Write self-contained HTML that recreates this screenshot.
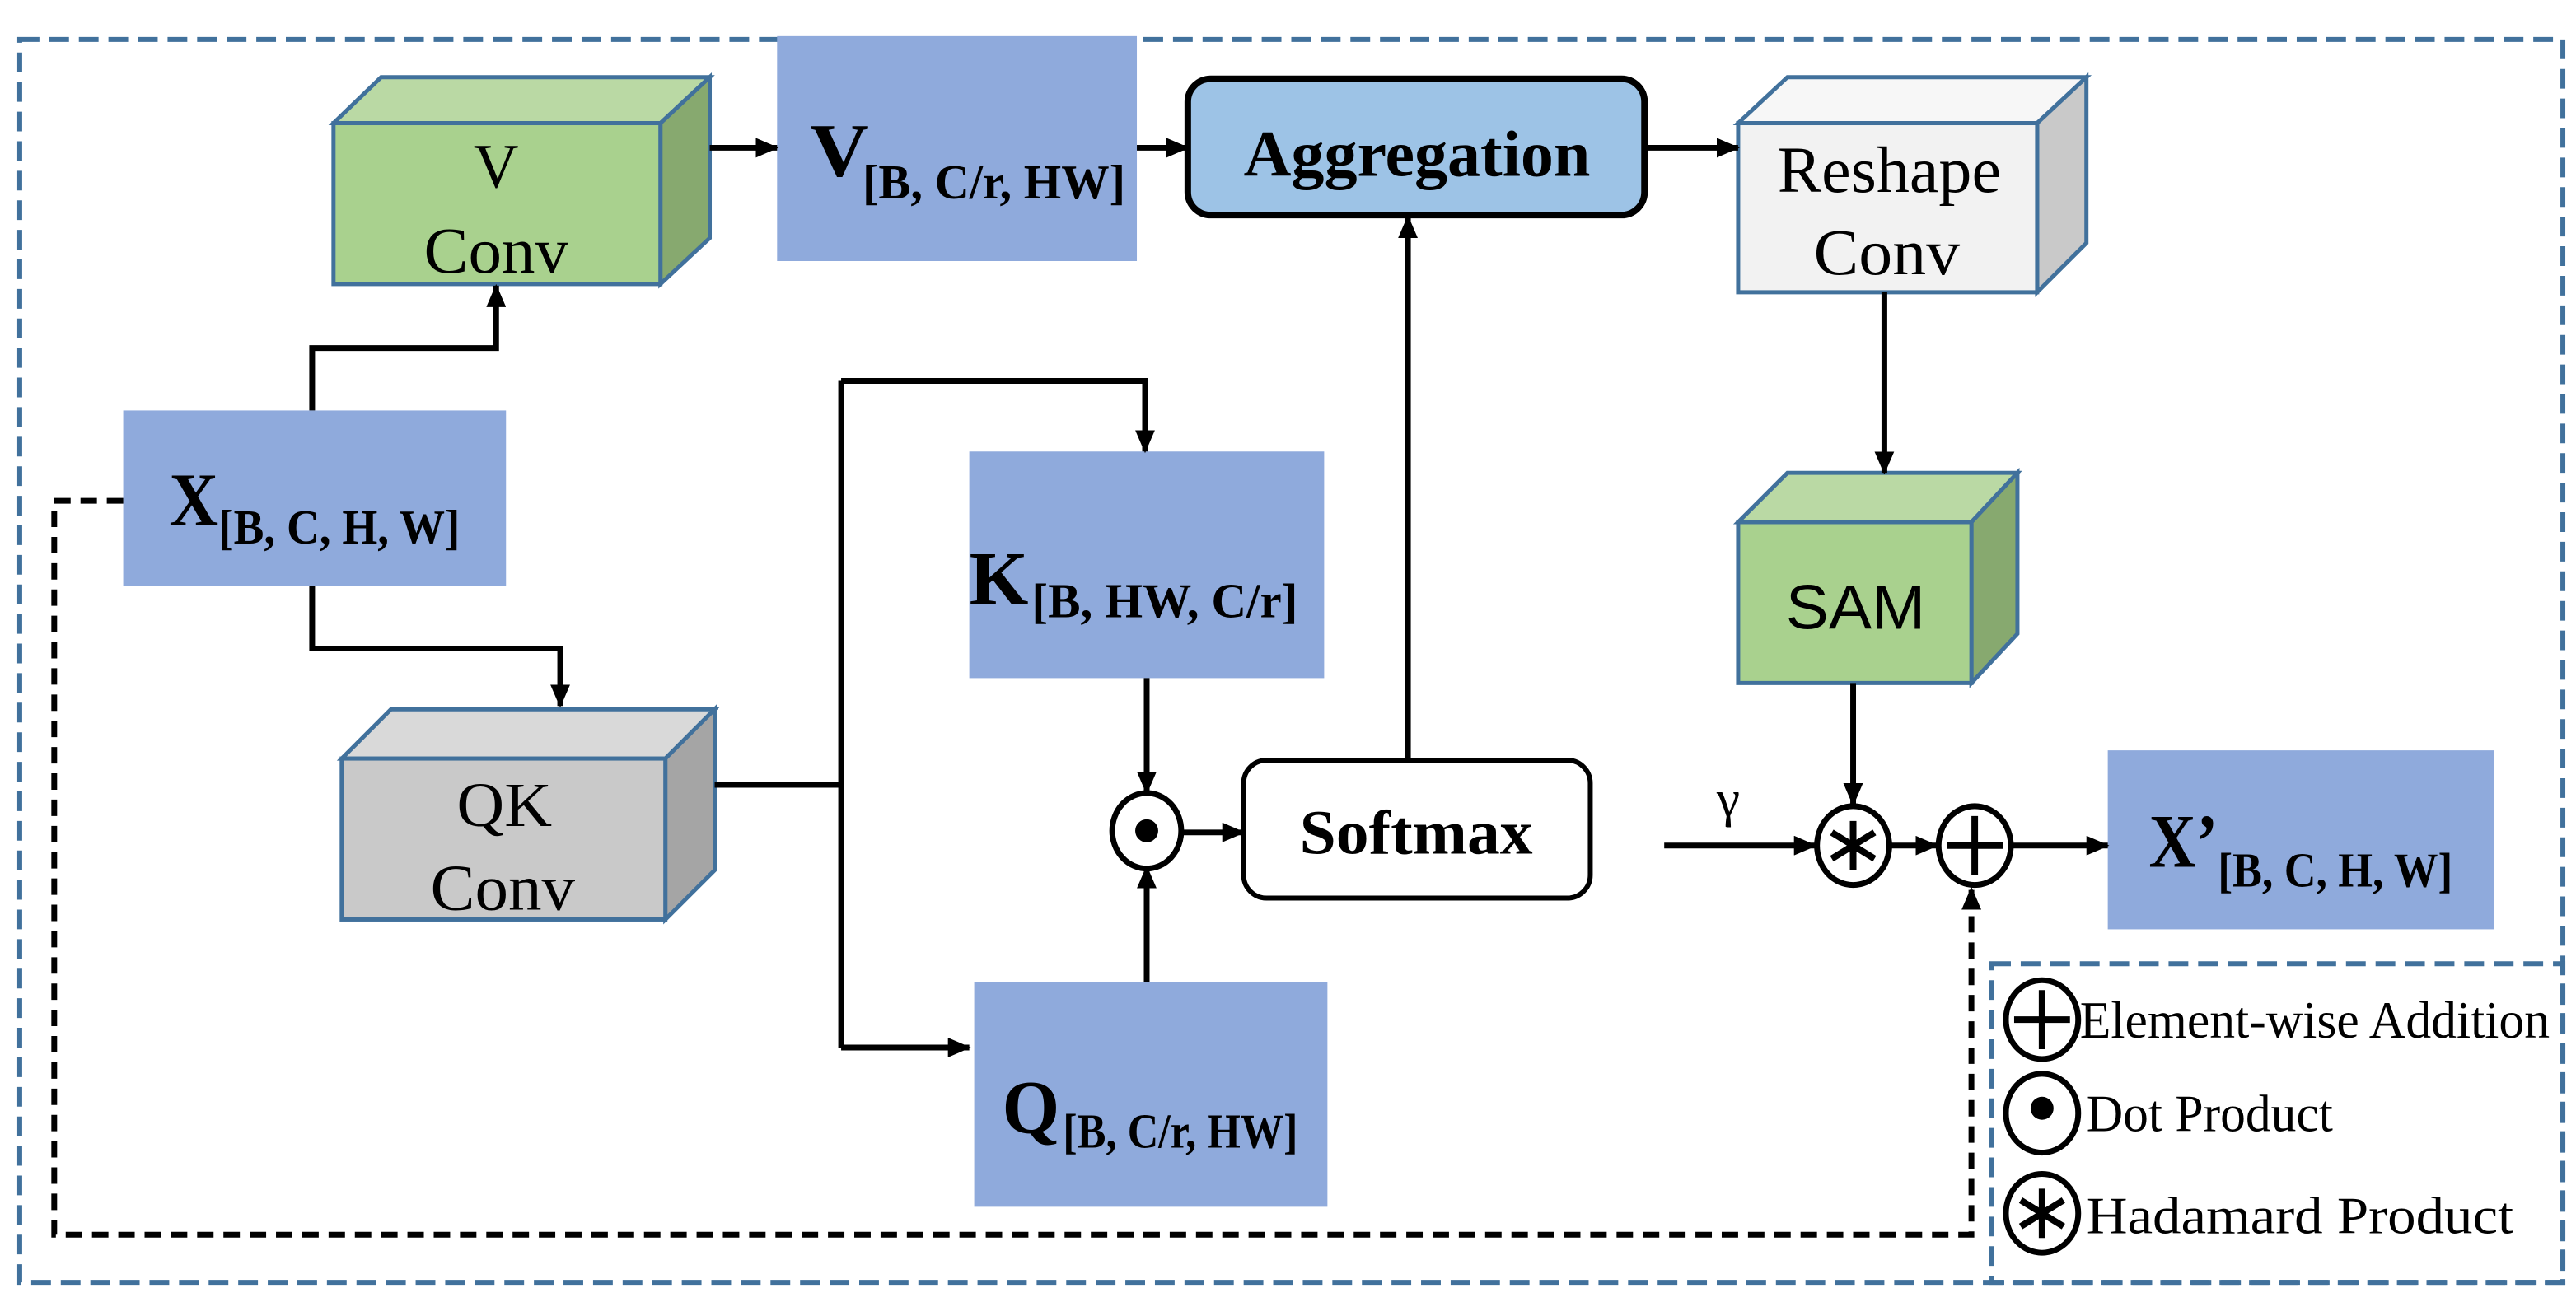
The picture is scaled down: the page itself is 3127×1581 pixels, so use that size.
<!DOCTYPE html>
<html><head><meta charset="utf-8"><style>
html,body{margin:0;padding:0;background:#fff;}
svg{display:block;}
text{font-family:"Liberation Serif",serif;}
</style></head><body>
<svg width="3127" height="1581" viewBox="0 0 1568 793" preserveAspectRatio="none" xmlns="http://www.w3.org/2000/svg">
<defs>
<marker id="a" markerWidth="14" markerHeight="12" refX="13" refY="6" orient="auto" markerUnits="userSpaceOnUse">
<path d="M0,0 L14,6 L0,12 z" fill="#000"/></marker>
</defs>
<rect x="12" y="24" width="1548" height="757" fill="none" stroke="#41719C" stroke-width="3" stroke-dasharray="12,6"/>

<!-- V Conv cube -->
<g stroke="#41719C" stroke-width="2.5">
<polygon points="203,75 232,47 432,47 402,75" fill="#BAD9A4"/>
<polygon points="402,75 432,47 432,145 402,173" fill="#87A96F"/>
<rect x="203" y="75" width="199" height="98" fill="#A9D18E"/>
</g>
<text x="302" y="114" font-size="38" text-anchor="middle">V</text>
<text x="258" y="166" font-size="40" textLength="88" lengthAdjust="spacingAndGlyphs">Conv</text>

<!-- V box -->
<rect x="473" y="22" width="219" height="137" fill="#8FAADC"/>
<text x="493" y="107" font-size="46" font-weight="bold" textLength="36" lengthAdjust="spacingAndGlyphs">V</text>
<text x="525" y="121" font-size="30" font-weight="bold" textLength="160" lengthAdjust="spacingAndGlyphs">[B, C/r, HW]</text>

<!-- Aggregation -->
<rect x="723" y="48" width="278" height="83" rx="14" fill="#9DC3E6" stroke="#000" stroke-width="4"/>
<text x="757" y="107" font-size="40" font-weight="bold" textLength="211" lengthAdjust="spacingAndGlyphs">Aggregation</text>

<!-- Reshape Conv cube -->
<g stroke="#41719C" stroke-width="2.5">
<polygon points="1058,75 1088,47 1270,47 1240,75" fill="#F7F7F7"/>
<polygon points="1240,75 1270,47 1270,148 1240,178" fill="#C9C9C9"/>
<rect x="1058" y="75" width="182" height="103" fill="#F2F2F2"/>
</g>
<text x="1082" y="117" font-size="40" textLength="136" lengthAdjust="spacingAndGlyphs">Reshape</text>
<text x="1104" y="167" font-size="40" textLength="89" lengthAdjust="spacingAndGlyphs">Conv</text>

<!-- SAM cube -->
<g stroke="#41719C" stroke-width="2.5">
<polygon points="1058,318 1088,288 1228,288 1200,318" fill="#BAD9A4"/>
<polygon points="1200,318 1228,288 1228,386 1200,416" fill="#87A96F"/>
<rect x="1058" y="318" width="142" height="98" fill="#A9D18E"/>
</g>
<text x="1087" y="383" font-size="38" style="font-family:'Liberation Sans',sans-serif" textLength="85" lengthAdjust="spacingAndGlyphs">SAM</text>

<!-- X box -->
<rect x="75" y="250" width="233" height="107" fill="#8FAADC"/>
<text x="103" y="320" font-size="46" font-weight="bold" textLength="30" lengthAdjust="spacingAndGlyphs">X</text>
<text x="133" y="331" font-size="30" font-weight="bold" textLength="147" lengthAdjust="spacingAndGlyphs">[B, C,  H, W]</text>

<!-- QK Conv cube -->
<g stroke="#41719C" stroke-width="2.5">
<polygon points="208,462 238,432 435,432 405,462" fill="#D9D9D9"/>
<polygon points="405,462 435,432 435,530 405,560" fill="#A5A5A5"/>
<rect x="208" y="462" width="197" height="98" fill="#C9C9C9"/>
</g>
<text x="278" y="503" font-size="38" textLength="58" lengthAdjust="spacingAndGlyphs">QK</text>
<text x="262" y="554" font-size="40" textLength="88" lengthAdjust="spacingAndGlyphs">Conv</text>

<!-- K box -->
<rect x="590" y="275" width="216" height="138" fill="#8FAADC"/>
<text x="590" y="368" font-size="46" font-weight="bold" textLength="36" lengthAdjust="spacingAndGlyphs">K</text>
<text x="628" y="376" font-size="30" font-weight="bold" textLength="162" lengthAdjust="spacingAndGlyphs">[B, HW, C/r]</text>

<!-- Q box -->
<rect x="593" y="598" width="215" height="137" fill="#8FAADC"/>
<text x="610" y="690" font-size="46" font-weight="bold" textLength="35" lengthAdjust="spacingAndGlyphs">Q</text>
<text x="647" y="699" font-size="30" font-weight="bold" textLength="143" lengthAdjust="spacingAndGlyphs">[B, C/r, HW]</text>

<!-- Softmax -->
<rect x="757" y="463" width="211" height="84" rx="14" fill="#fff" stroke="#000" stroke-width="3"/>
<text x="791" y="520" font-size="38" font-weight="bold" textLength="142" lengthAdjust="spacingAndGlyphs">Softmax</text>

<!-- X' box -->
<rect x="1283" y="457" width="235" height="109" fill="#8FAADC"/>
<text x="1308" y="528" font-size="46" font-weight="bold" textLength="42" lengthAdjust="spacingAndGlyphs">X’</text>
<text x="1350" y="540" font-size="30" font-weight="bold" textLength="143" lengthAdjust="spacingAndGlyphs">[B, C,  H, W]</text>

<g stroke="#000" stroke-width="3.5" fill="none">
<line x1="432" y1="90" x2="473" y2="90" marker-end="url(#a)"/>
<line x1="692" y1="90" x2="723" y2="90" marker-end="url(#a)"/>
<line x1="1001" y1="90" x2="1058" y2="90" marker-end="url(#a)"/>
<line x1="1147" y1="178" x2="1147" y2="288" marker-end="url(#a)"/>
<polyline points="190,250 190,212 302,212 302,174" marker-end="url(#a)"/>
<polyline points="190,357 190,395 341,395 341,430" marker-end="url(#a)"/>
<line x1="435" y1="478" x2="512" y2="478"/>
<polyline points="512,232 697,232 697,275" marker-end="url(#a)"/>
<line x1="512" y1="232" x2="512" y2="638"/>
<polyline points="512,638 590,638" marker-end="url(#a)"/>
<line x1="698" y1="413" x2="698" y2="483" marker-end="url(#a)"/>
<line x1="698" y1="598" x2="698" y2="528" marker-end="url(#a)"/>
<line x1="720" y1="507" x2="757" y2="507" marker-end="url(#a)"/>
<line x1="857" y1="463" x2="857" y2="132" marker-end="url(#a)"/>
<line x1="1128" y1="416" x2="1128" y2="490" marker-end="url(#a)"/>
<line x1="1013" y1="515" x2="1105" y2="515" marker-end="url(#a)"/>
<line x1="1150" y1="515" x2="1179" y2="515" marker-end="url(#a)"/>
<line x1="1225" y1="515" x2="1283" y2="515" marker-end="url(#a)"/>
<polyline points="75,305 33,305 33,752 1200,752 1200,541" stroke-dasharray="10,6" marker-end="url(#a)"/>
</g>
<text x="1052" y="497" font-size="32" text-anchor="middle">γ</text>

<g stroke="#000" stroke-width="3.5" fill="#fff">
<ellipse cx="698" cy="506" rx="21" ry="23"/>
<ellipse cx="1128" cy="515" rx="22" ry="24"/>
<ellipse cx="1202" cy="515" rx="22" ry="24"/>
</g>
<circle cx="698" cy="506" r="7" fill="#000"/>
<g stroke="#000" stroke-width="4">
<line x1="1128" y1="500" x2="1128" y2="530"/><line x1="1115" y1="507" x2="1141" y2="523"/><line x1="1115" y1="523" x2="1141" y2="507"/>
<line x1="1202" y1="497" x2="1202" y2="533"/><line x1="1185" y1="515" x2="1219" y2="515"/>
</g>

<rect x="1212" y="587" width="348" height="194" fill="none" stroke="#41719C" stroke-width="3" stroke-dasharray="12,6"/>
<g stroke="#000" stroke-width="3.5" fill="#fff">
<ellipse cx="1243" cy="621" rx="22" ry="24"/>
<ellipse cx="1243" cy="678" rx="22" ry="24"/>
<ellipse cx="1243" cy="739" rx="22" ry="24"/>
</g>
<g stroke="#000" stroke-width="4">
<line x1="1243" y1="603" x2="1243" y2="639"/><line x1="1226" y1="621" x2="1260" y2="621"/>
<line x1="1243" y1="724" x2="1243" y2="754"/><line x1="1230" y1="731" x2="1256" y2="747"/><line x1="1230" y1="747" x2="1256" y2="731"/>
</g>
<circle cx="1243" cy="675" r="7" fill="#000"/>
<text x="1266" y="632" font-size="32" textLength="286" lengthAdjust="spacingAndGlyphs">Element-wise Addition</text>
<text x="1270" y="689" font-size="32" textLength="150" lengthAdjust="spacingAndGlyphs">Dot Product</text>
<text x="1270" y="751" font-size="32" textLength="260" lengthAdjust="spacingAndGlyphs">Hadamard Product</text>
</svg>
</body></html>
